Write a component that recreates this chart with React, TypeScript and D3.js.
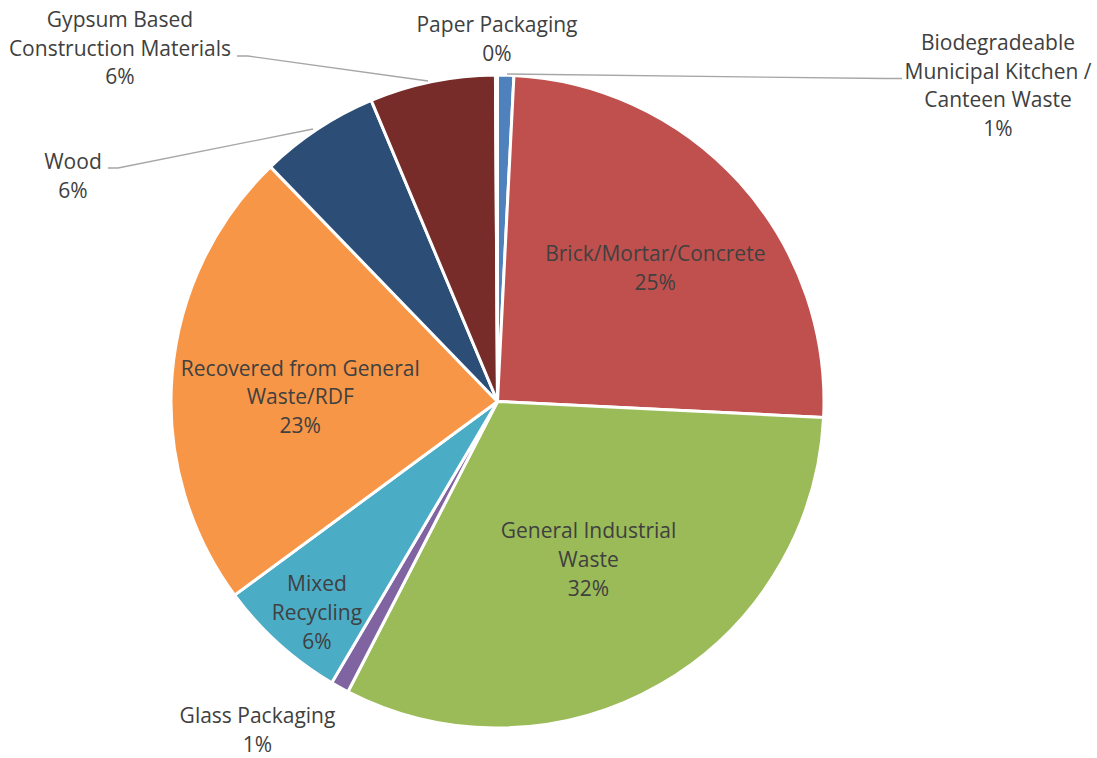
import React from "react";
import * as d3 from "d3";

const categories = [
  "Biodegradeable Municipal Kitchen / Canteen Waste",
  "Brick/Mortar/Concrete",
  "General Industrial Waste",
  "Glass Packaging",
  "Mixed Recycling",
  "Recovered from General Waste/RDF",
  "Wood",
  "Gypsum Based Construction Materials",
  "Paper Packaging",
];
const values = [0.8, 24.9, 31.7, 0.9, 6.4, 22.8, 5.9, 6.2, 0.1];
const percentLabels = ["1%", "25%", "32%", "1%", "6%", "23%", "6%", "6%", "0%"];
const colors = ["#4F81BD", "#C0504D", "#9BBB59", "#8064A2", "#4BACC6", "#F79646", "#2C4D75", "#772C2A", "#5F7530"];

// label text lines (category wrapping as in the chart)
const labelLines = [
  ["Biodegradeable", "Municipal Kitchen /", "Canteen Waste"],
  ["Brick/Mortar/Concrete"],
  ["General Industrial", "Waste"],
  ["Glass Packaging"],
  ["Mixed", "Recycling"],
  ["Recovered from General", "Waste/RDF"],
  ["Wood"],
  ["Gypsum Based", "Construction Materials"],
  ["Paper Packaging"],
];

// layout for labels: inside labels use radius fraction + nudge; outside labels use explicit first-baseline positions
type LabelLayout =
  | { kind: "inside"; k: number; dx: number; dy: number }
  | { kind: "outside"; x: number; y: number; leader?: [number, number][] };

const labelLayout: LabelLayout[] = [
  { kind: "outside", x: 998, y: 50, leader: [[507, 74], [885, 78.5], [902, 78.5]] },
  { kind: "inside", k: 0.633, dx: 4.6, dy: 5.2 },
  { kind: "inside", k: 0.558, dx: 0, dy: 0 },
  { kind: "outside", x: 257.5, y: 723 },
  { kind: "inside", k: 0.851, dx: 5.6, dy: 4.9 },
  { kind: "inside", k: 0.604, dx: -0.7, dy: 11.9 },
  { kind: "outside", x: 73, y: 169, leader: [[313, 129], [118, 168], [108, 168]] },
  { kind: "outside", x: 120, y: 27, leader: [[428, 81], [248, 56], [237, 56]] },
  { kind: "outside", x: 497, y: 32 },
];

const W = 1097;
const H = 758;
const cx = 497.5;
const cy = 401.5;
const R = 326.5;
const LINE = 28.7;
const FONT = "'Open Sans', sans-serif";
const FS = 21;
const CAP_HALF = FS * 0.714 / 2;

export default function App() {
  const pie = d3.pie<number>().sort(null).value((d) => d).startAngle(0).endAngle(2 * Math.PI);
  const arcs = pie(values);
  const arc = d3.arc<d3.PieArcDatum<number>>().innerRadius(0).outerRadius(R);

  return (
    <svg width={W} height={H} style={{ position: "absolute", left: 0, top: 0, background: "#fff" }}>
      <g transform={`translate(${cx},${cy})`}>
        {arcs.map((a, i) => (
          <path key={i} d={arc(a) || ""} fill={colors[i]} stroke="#fff" strokeWidth={3} strokeLinejoin="round" />
        ))}
      </g>
      {labelLayout.map((L, i) => {
        const lines = [...labelLines[i], percentLabels[i]];
        let x: number, y: number;
        if (L.kind === "inside") {
          const c = d3.arc<d3.PieArcDatum<number>>().innerRadius(R * L.k).outerRadius(R * L.k).centroid(arcs[i]);
          x = cx + c[0] + L.dx;
          const h = (lines.length - 1) * LINE;
          y = cy + c[1] + L.dy - h / 2 + CAP_HALF;
        } else {
          x = L.x;
          y = L.y;
        }
        return (
          <g key={i}>
            {L.kind === "outside" && L.leader && (
              <path d={d3.line()(L.leader) || ""} fill="none" stroke="#A6A6A6" strokeWidth={1.3} />
            )}
            <text x={x} y={y} textAnchor="middle" fontFamily={FONT} fontSize={FS} fill="#404040">
              {lines.map((t, j) => (
                <tspan key={j} x={x} y={y + j * LINE}>
                  {t}
                </tspan>
              ))}
            </text>
          </g>
        );
      })}
    </svg>
  );
}
